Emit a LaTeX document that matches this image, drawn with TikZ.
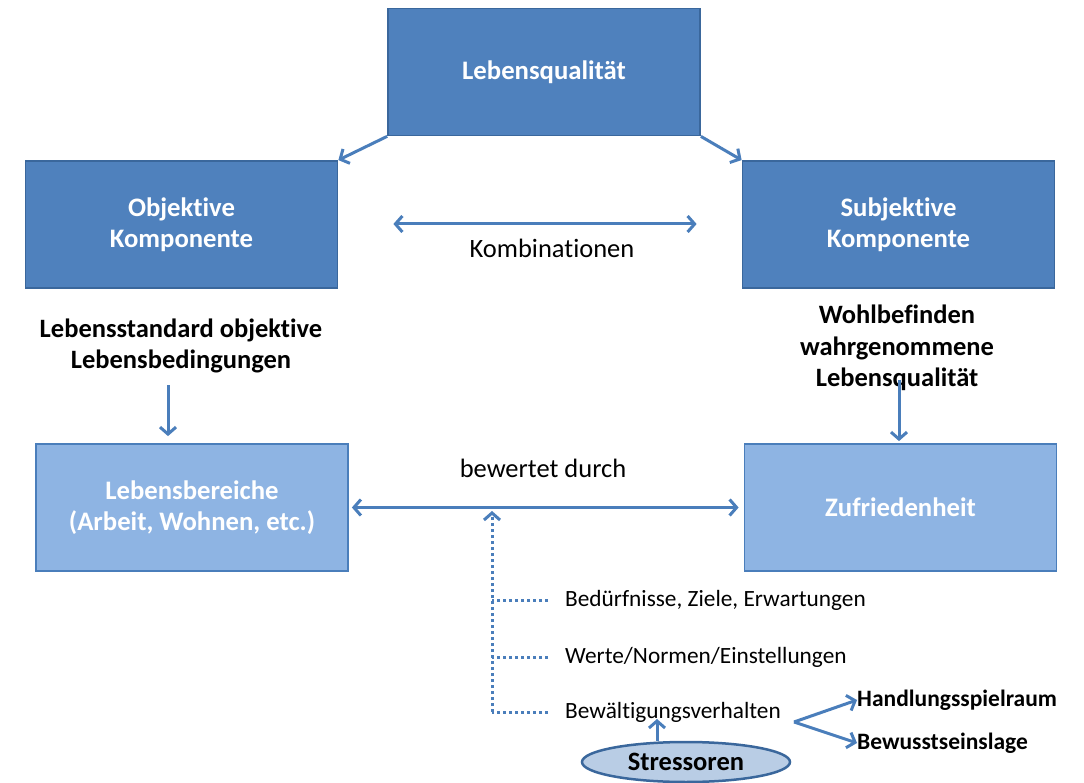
\documentclass[tikz,border=0pt]{standalone}
\usepackage{fontspec}
\setmainfont{Carlito}[Ligatures={NoCommon}]
\usetikzlibrary{arrows.meta,shapes.geometric}
\definecolor{dkfill}{HTML}{4F81BD}
\definecolor{dkline}{HTML}{3A679C}
\definecolor{ltfill}{HTML}{8EB4E3}
\definecolor{ltline}{HTML}{4A7EBB}
\definecolor{arr}{HTML}{4A7EBB}
\definecolor{elfill}{HTML}{B9CDE5}
\begin{document}
\begin{tikzpicture}[x=1pt,y=-1pt,
 dkbox/.style={draw=dkline, fill=dkfill, line width=1.8pt, minimum width=312pt, minimum height=127pt, text=white, font=\bfseries\fontsize{26.7}{31.5}\selectfont, align=center, inner sep=0},
 ltbox/.style={dkbox, draw=ltline, fill=ltfill},
 conn/.style={draw=arr, line width=3pt, -{Straight Barb[length=7pt,width=16pt]}},
 both/.style={draw=arr, line width=3pt, {Straight Barb[length=7pt,width=16pt]}-{Straight Barb[length=7pt,width=16pt]}},
 dots/.style={draw=arr, line width=3pt, dash pattern=on 3pt off 3pt},
 big/.style={font=\fontsize{26.5}{31.5}\selectfont, align=center, inner sep=0},
 bigb/.style={font=\bfseries\fontsize{26.5}{31.5}\selectfont, align=center, inner sep=0},
 small/.style={font=\fontsize{23.3}{27}\selectfont, anchor=west, inner sep=0},
 smallb/.style={small, font=\bfseries\fontsize{23.5}{27}\selectfont}
]
\useasboundingbox[fill=white] (0,0) rectangle (1084,783);
% boxes
\node[dkbox] (lq) at (544,72) {Lebensqualität};
\node[dkbox] (ok) at (181.5,224.5) {Objektive\\Komponente};
\node[dkbox] (sk) at (898.5,224.5) {Subjektive\\Komponente};
\node[ltbox] (lb) at (192,507.5) {Lebensbereiche\\(Arbeit, Wohnen, etc.)};
\node[ltbox] (zu) at (900.5,507.5) {Zufriedenheit};
% top arrows
\draw[conn] (lq.south west) -- (ok.north east);
\draw[conn] (lq.south east) -- (sk.north west);
\draw[both, shorten <=55pt, shorten >=45pt] (ok.east |- 0,224) -- (sk.west |- 0,224);
\node[big] (kb) at (552,248) {Kombinationen};
% labels
\node[bigb] (ls) at (181,346) {Lebensstandard objektive\\Lebensbedingungen};
\node[bigb] (wb) at (897,348) {Wohlbefinden\\wahrgenommene\\Lebensqualität};
\coordinate (lsA) at (168,385);
\draw[conn, shorten >=7pt] (lsA) -- (lsA |- lb.north);
\coordinate (wbA) at (899,380);
\draw[conn, shorten >=2pt] (wbA) -- (wbA |- zu.north);
% evaluation
\node[big] (bd) at (543,468) {bewertet durch};
\draw[both, shorten <=3pt, shorten >=5pt] (lb.east) -- (zu.west);
\coordinate (dtop) at (492,511);
\node[small] (bn) at (565,600) {Bedürfnisse, Ziele, Erwartungen};
\node[small] (wn) at (565,657) {Werte/Normen/Einstellungen};
\node[small] (bv) at (565,712) {Bewältigungsverhalten};
\draw[dots, shorten <=17pt] (bn.west) -- (bn.west -| dtop);
\draw[dots, shorten <=17pt] (wn.west) -- (wn.west -| dtop);
\draw[dots, shorten <=17pt] (bv.west) -- (bv.west -| dtop);
\draw[dots, -{Straight Barb[length=7pt,width=16pt]}] (bv.west -| dtop) -- (dtop);
% stressors
\node[draw=dkline, fill=elfill, ellipse, line width=2.5pt, minimum width=208pt, minimum height=40pt, inner sep=0, font=\bfseries\fontsize{26.5}{30}\selectfont] (st) at (686,762) {Stressoren};
\coordinate (sb) at (657,719);
\draw[conn] (sb |- st.north) -- (sb);
\coordinate (fk) at (794,722);
\node[smallb] (hs) at (857,700) {Handlungsspielraum};
\node[smallb] (bl) at (857,743) {Bewusstseinslage};
\draw[conn] (fk) -- (hs.west);
\draw[conn] (fk) -- (bl.west);
\end{tikzpicture}
\end{document}
